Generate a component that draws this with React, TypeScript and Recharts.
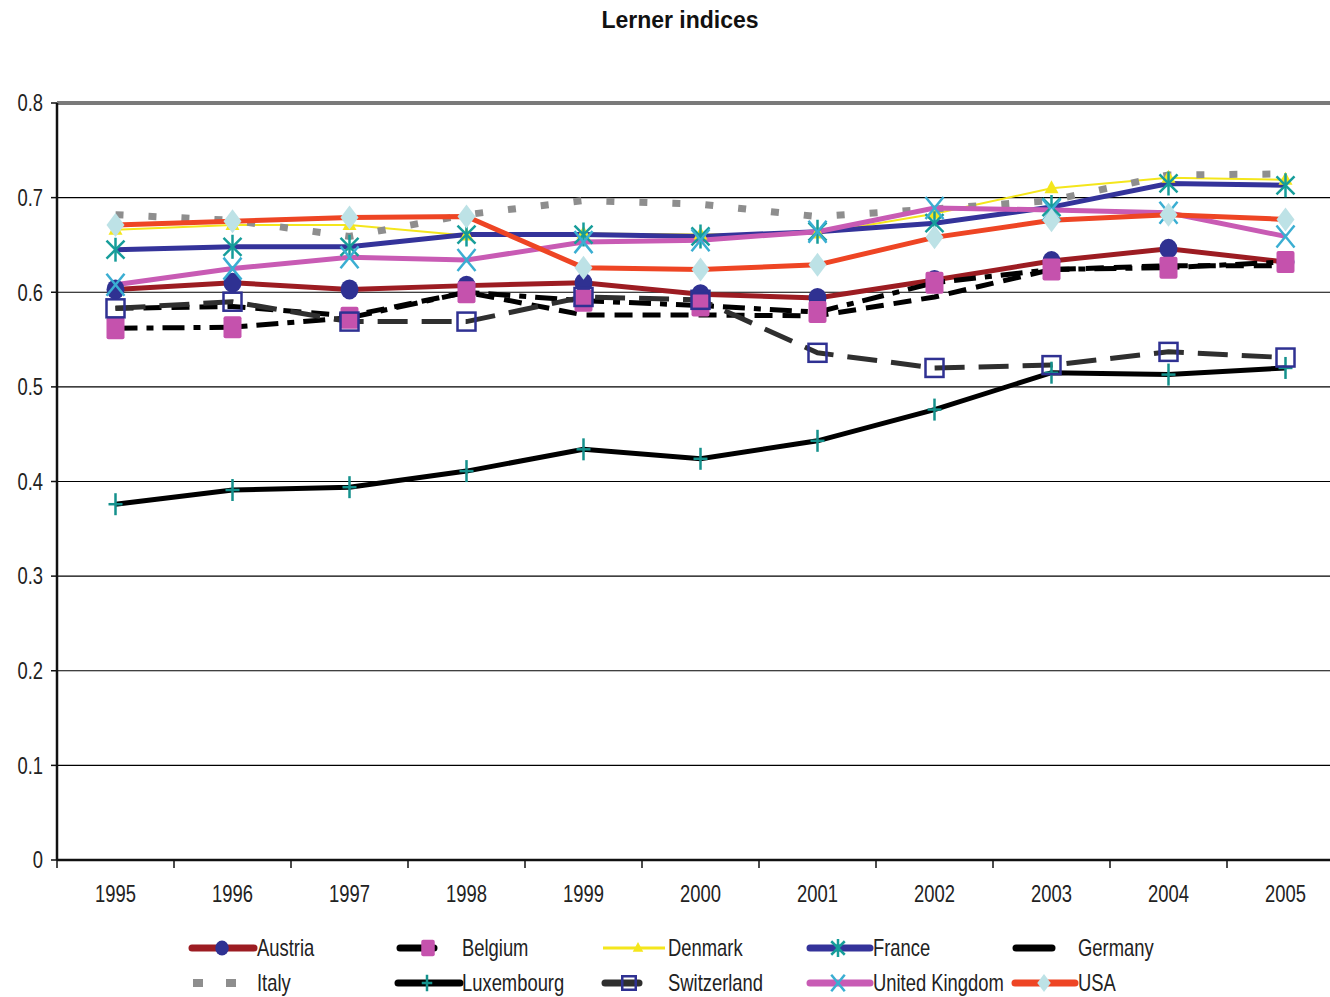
import React from 'react';
import {
  LineChart,
  Line,
  XAxis,
  YAxis,
  CartesianGrid,
  ReferenceLine,
} from 'recharts';

// ---- data ----
const years = ['1995', '1996', '1997', '1998', '1999', '2000', '2001', '2002', '2003', '2004', '2005'];

const austria = [0.603, 0.61, 0.603, 0.607, 0.61, 0.598, 0.594, 0.613, 0.633, 0.646, 0.632];
const belgium = [0.562, 0.563, 0.573, 0.6, 0.591, 0.586, 0.579, 0.61, 0.624, 0.626, 0.632];
const denmark = [0.666, 0.671, 0.671, 0.66, 0.662, 0.661, 0.662, 0.683, 0.71, 0.721, 0.719];
const france = [0.645, 0.648, 0.648, 0.661, 0.661, 0.659, 0.664, 0.673, 0.69, 0.715, 0.713];
const germany = [0.583, 0.585, 0.575, 0.6, 0.576, 0.576, 0.575, 0.595, 0.624, 0.628, 0.628];
const italy = [0.682, 0.676, 0.659, 0.682, 0.697, 0.693, 0.68, 0.688, 0.697, 0.724, 0.725];
const luxembourg = [0.376, 0.391, 0.394, 0.411, 0.434, 0.424, 0.443, 0.476, 0.515, 0.513, 0.52];
const switzerland = [0.583, 0.59, 0.569, 0.569, 0.595, 0.592, 0.536, 0.52, 0.523, 0.537, 0.531];
const unitedKingdom = [0.608, 0.625, 0.637, 0.634, 0.653, 0.655, 0.664, 0.689, 0.687, 0.684, 0.659];
const usa = [0.671, 0.675, 0.679, 0.68, 0.626, 0.624, 0.629, 0.658, 0.676, 0.682, 0.677];

const yTicks = [0, 0.1, 0.2, 0.3, 0.4, 0.5, 0.6, 0.7, 0.8];

const seriesValues: Record<string, number[]> = {
  Austria: austria,
  Belgium: belgium,
  Denmark: denmark,
  France: france,
  Germany: germany,
  Italy: italy,
  Luxembourg: luxembourg,
  Switzerland: switzerland,
  'United Kingdom': unitedKingdom,
  USA: usa,
};

const data = years.map((year, i) => {
  const row: Record<string, string | number> = { year };
  Object.keys(seriesValues).forEach((k) => {
    row[k] = seriesValues[k][i];
  });
  return row;
});

// ---- styles ----
const FONT = "'Liberation Sans', Arial, sans-serif";
const NARROW = 0.8;
const TEXT_COLOR = '#222';
const NAVY = '#2f3192';
const TEAL = '#169d9a';

type MarkerKind = 'circle' | 'square' | 'triangle' | 'asterisk' | 'none' | 'plus' | 'openSquare' | 'cross' | 'diamond';

interface SeriesStyle {
  name: string;
  stroke: string;
  width: number;
  dash?: string;
  marker: MarkerKind;
  markerColor: string;
}

const seriesStyles: SeriesStyle[] = [
  { name: 'Austria', stroke: '#9c1c22', width: 5, marker: 'circle', markerColor: NAVY },
  { name: 'Belgium', stroke: '#000000', width: 5, dash: '22 9 7 9', marker: 'square', markerColor: '#c552ad' },
  { name: 'Denmark', stroke: '#f4e61c', width: 2, marker: 'triangle', markerColor: '#f4e61c' },
  { name: 'France', stroke: '#34339a', width: 5, marker: 'asterisk', markerColor: TEAL },
  { name: 'Germany', stroke: '#000000', width: 5, dash: '18 10', marker: 'none', markerColor: '#000' },
  { name: 'Italy', stroke: '#8e8e8e', width: 7, dash: '8 25', marker: 'none', markerColor: '#8e8e8e' },
  { name: 'Luxembourg', stroke: '#000000', width: 5, marker: 'plus', markerColor: '#14918c' },
  { name: 'Switzerland', stroke: '#2f2f2f', width: 5, dash: '30 14', marker: 'openSquare', markerColor: NAVY },
  { name: 'United Kingdom', stroke: '#c85bb4', width: 5, marker: 'cross', markerColor: '#3aaed2' },
  { name: 'USA', stroke: '#ee4524', width: 5, marker: 'diamond', markerColor: '#bde2e6' },
];

// Condensed label text: regular sans squeezed horizontally
function NarrowText({
  x,
  y,
  anchor = 'start',
  dy,
  children,
}: {
  x: number;
  y: number;
  anchor?: 'start' | 'middle' | 'end';
  dy?: string;
  children: React.ReactNode;
}) {
  return (
    <text
      transform={`translate(${x},${y}) scale(${NARROW},1)`}
      textAnchor={anchor}
      dy={dy}
      fontFamily={FONT}
      fontSize={23}
      fill={TEXT_COLOR}
    >
      {children}
    </text>
  );
}

function Marker({
  kind,
  cx,
  cy,
  color,
  s = 1,
}: {
  kind: MarkerKind;
  cx: number;
  cy: number;
  color: string;
  s?: number;
}) {
  switch (kind) {
    case 'circle':
      return <ellipse cx={cx} cy={cy} rx={9 * s} ry={10 * s} fill={color} />;
    case 'square':
      return <rect x={cx - 9 * s} y={cy - 11 * s} width={18 * s} height={22 * s} rx={2} fill={color} />;
    case 'triangle':
      return <polygon points={`${cx},${cy - 8 * s} ${cx + 7 * s},${cy + 5 * s} ${cx - 7 * s},${cy + 5 * s}`} fill={color} />;
    case 'asterisk':
      return (
        <g stroke={color} strokeWidth={2.5}>
          <line x1={cx} y1={cy - 12 * s} x2={cx} y2={cy + 12 * s} />
          <line x1={cx - 9 * s} y1={cy - 9 * s} x2={cx + 9 * s} y2={cy + 9 * s} />
          <line x1={cx - 9 * s} y1={cy + 9 * s} x2={cx + 9 * s} y2={cy - 9 * s} />
        </g>
      );
    case 'plus':
      return (
        <g stroke={color} strokeWidth={2.5}>
          <line x1={cx} y1={cy - 11 * s} x2={cx} y2={cy + 11 * s} />
          <line x1={cx - 7 * s} y1={cy} x2={cx + 7 * s} y2={cy} />
        </g>
      );
    case 'openSquare':
      return (
        <rect x={cx - 9 * s} y={cy - 9 * s} width={18 * s} height={18 * s} fill="none" stroke={color} strokeWidth={2.5} />
      );
    case 'cross':
      return (
        <g stroke={color} strokeWidth={2.5}>
          <line x1={cx - 9 * s} y1={cy - 11 * s} x2={cx + 9 * s} y2={cy + 11 * s} />
          <line x1={cx - 9 * s} y1={cy + 11 * s} x2={cx + 9 * s} y2={cy - 11 * s} />
        </g>
      );
    case 'diamond':
      return (
        <polygon
          points={`${cx},${cy - 12 * s} ${cx + 9 * s},${cy} ${cx},${cy + 12 * s} ${cx - 9 * s},${cy}`}
          fill={color}
        />
      );
    default:
      return null;
  }
}

// ---- layout ----
const CHART_W = 1360;
const CHART_H = 997;
const PLOT_LEFT = 57;
const PLOT_RIGHT_MARGIN = 16;
const BAND = (CHART_W - PLOT_LEFT - PLOT_RIGHT_MARGIN) / years.length;

function YearTick(props: any) {
  const { x, y, payload } = props;
  const axisY = y - 8;
  const bx = x - BAND / 2;
  return (
    <g>
      <line x1={bx} y1={axisY} x2={bx} y2={axisY + 8} stroke="#111" strokeWidth={1.5} />
      <NarrowText x={x} y={y + 34} anchor="middle">
        {payload.value}
      </NarrowText>
    </g>
  );
}

function ValueTick(props: any) {
  const { x, y, payload } = props;
  const v = payload.value as number;
  return (
    <NarrowText x={x} y={y} anchor="end" dy="0.36em">
      {v === 0 ? '0' : v.toFixed(1)}
    </NarrowText>
  );
}

// Legend layout: swatch start, swatch width, marker centre, label x, row
const legendLayout: Record<string, { sx: number; sw: number; mx: number; lx: number; row: number }> = {
  Austria: { sx: 192, sw: 62, mx: 222, lx: 257, row: 0 },
  Belgium: { sx: 400, sw: 34, mx: 428, lx: 462, row: 0 },
  Denmark: { sx: 603, sw: 62, mx: 638, lx: 668, row: 0 },
  France: { sx: 810, sw: 60, mx: 838, lx: 873, row: 0 },
  Germany: { sx: 1016, sw: 36, mx: 0, lx: 1078, row: 0 },
  Italy: { sx: 193, sw: 45, mx: 0, lx: 257, row: 1 },
  Luxembourg: { sx: 398, sw: 62, mx: 427, lx: 462, row: 1 },
  Switzerland: { sx: 605, sw: 34, mx: 629, lx: 668, row: 1 },
  'United Kingdom': { sx: 810, sw: 60, mx: 838, lx: 873, row: 1 },
  USA: { sx: 1015, sw: 60, mx: 1044, lx: 1078, row: 1 },
};

function ChartLegend() {
  const rowY = [948, 983];
  return (
    <svg width={1330} height={997} style={{ position: 'absolute', left: 0, top: 0, pointerEvents: 'none' }}>
      {seriesStyles.map((s) => {
        const l = legendLayout[s.name];
        const y = rowY[l.row];
        let swatch: React.ReactNode;
        if (s.name === 'Italy') {
          swatch = (
            <g fill={s.stroke}>
              <rect x={l.sx} y={y - 4} width={10} height={8} />
              <rect x={l.sx + 33} y={y - 4} width={10} height={8} />
            </g>
          );
        } else {
          swatch = (
            <line
              x1={l.sx}
              y1={y}
              x2={l.sx + l.sw}
              y2={y}
              stroke={s.stroke}
              strokeWidth={s.width < 4 ? 3 : 7}
              strokeLinecap={s.width < 4 ? 'butt' : 'round'}
            />
          );
        }
        return (
          <g key={s.name}>
            {swatch}
            {s.marker !== 'none' && <Marker kind={s.marker} cx={l.mx} cy={y} color={s.markerColor} s={0.75} />}
            <NarrowText x={l.lx} y={y + 8}>
              {s.name}
            </NarrowText>
          </g>
        );
      })}
    </svg>
  );
}

export default function App() {
  return (
    <div style={{ position: 'absolute', left: 0, top: 0, width: 1330, height: 997, overflow: 'hidden', background: '#fff' }}>
      <div
        style={{
          position: 'absolute',
          left: 0,
          right: 0,
          top: 7,
          textAlign: 'center',
          fontFamily: FONT,
          fontWeight: 'bold',
          fontSize: 23,
          color: '#111',
          paddingLeft: 30,
        }}
      >
        Lerner indices
      </div>
      <div style={{ position: 'absolute', left: 0, top: 0 }}>
        <LineChart
          width={CHART_W}
          height={CHART_H}
          data={data}
          margin={{ top: 103, right: PLOT_RIGHT_MARGIN, bottom: 97, left: 0 }}
        >
          <CartesianGrid vertical={false} stroke="#000" strokeWidth={1.2} />
          <ReferenceLine y={0.8} stroke="#7a7a7a" strokeWidth={4} />
          <XAxis
            dataKey="year"
            height={40}
            padding={{ left: BAND / 2, right: BAND / 2 }}
            axisLine={{ stroke: '#111', strokeWidth: 2.5 }}
            tickLine={false}
            tick={<YearTick />}
            interval={0}
          />
          <YAxis
            width={PLOT_LEFT}
            domain={[0, 0.8]}
            ticks={yTicks}
            allowDataOverflow
            axisLine={{ stroke: '#111', strokeWidth: 2.5 }}
            tickLine={{ stroke: '#111', strokeWidth: 1.5 }}
            tickSize={6}
            tickMargin={8}
            tick={<ValueTick />}
          />
          {seriesStyles.map((s) => (
            <Line
              key={s.name}
              type="linear"
              dataKey={s.name}
              stroke={s.stroke}
              strokeWidth={s.width}
              strokeDasharray={s.dash}
              isAnimationActive={false}
              dot={
                s.marker === 'none'
                  ? false
                  : (p: any) => (
                      <Marker key={`${s.name}-${p.index}`} kind={s.marker} cx={p.cx} cy={p.cy} color={s.markerColor} />
                    )
              }
              activeDot={false}
            />
          ))}
        </LineChart>
      </div>
      <ChartLegend />
    </div>
  );
}
